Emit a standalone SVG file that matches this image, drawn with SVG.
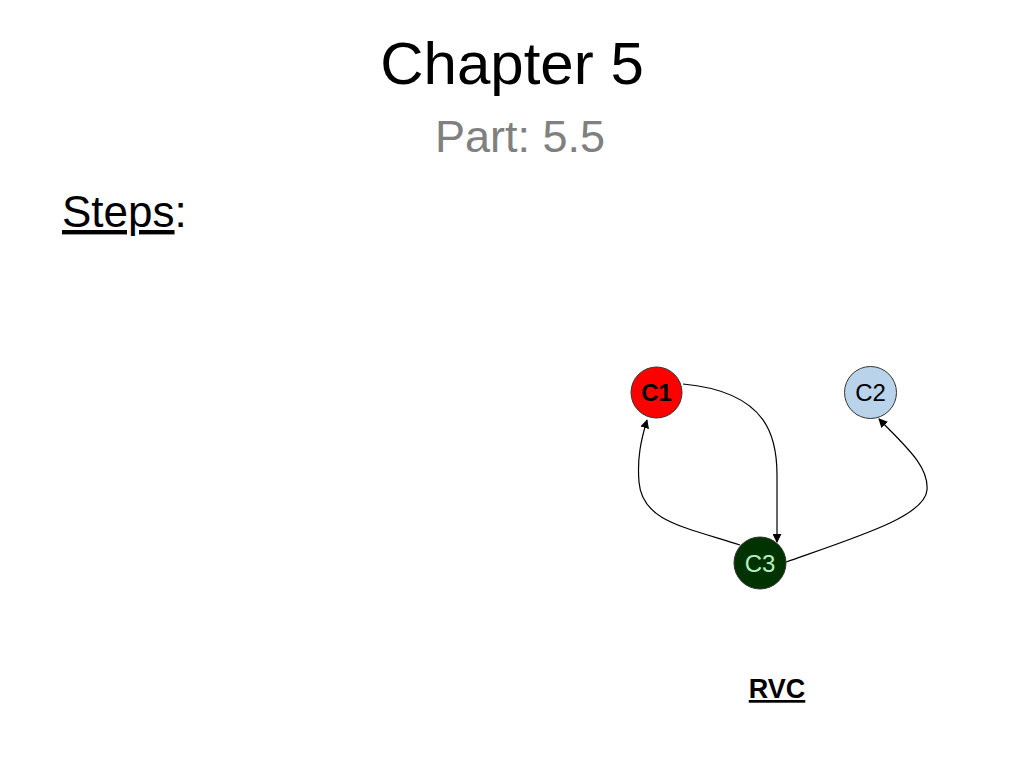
<svg xmlns="http://www.w3.org/2000/svg" width="1024" height="768" viewBox="0 0 1024 768">
<defs>
<style>
text{font-family:"Liberation Sans",Arial,sans-serif}
.edge{fill:none;stroke:#000;stroke-width:1.2}
.node{stroke:#333;stroke-width:1}
.lbl{font-size:24px;text-anchor:middle}
</style>
<marker id="arr" viewBox="0 0 10 10" refX="9" refY="5" markerWidth="9" markerHeight="9" markerUnits="userSpaceOnUse" orient="auto">
<path d="M0,0 L10,5 L0,10 Z" fill="#000"/>
</marker>
</defs>
<rect width="1024" height="768" fill="#fff"/>
<text x="512" y="84" font-size="60" text-anchor="middle" fill="#000">Chapter 5</text>
<text x="520" y="152" font-size="45" text-anchor="middle" fill="#808080">Part: 5.5</text>
<text x="62" y="227" font-size="44" fill="#000"><tspan text-decoration="underline">Steps</tspan>:</text>
<g id="connectors">
<path class="edge" d="M683,384 C770,392 777,440 777,475 L777,542" marker-end="url(#arr)"/>
<path class="edge" d="M740,545 C680,526 642,520 639,482 C637,458 641,440 647,420" marker-end="url(#arr)"/>
<path class="edge" d="M786,562 C860,536 925,516 927,490 C929,466 905,446 879,419" marker-end="url(#arr)"/>
</g>
<g id="C1">
<circle class="node" cx="656.5" cy="392.5" r="25.5" fill="#ff0000"/>
<text class="lbl" x="656.5" y="400.5" font-weight="bold" font-size="22" fill="#000">C1</text>
</g>
<g id="C2">
<circle class="node" cx="870.5" cy="392.5" r="26" fill="#b9d3ea"/>
<text class="lbl" x="870.5" y="401" fill="#000">C2</text>
</g>
<g id="C3">
<circle class="node" cx="760" cy="563" r="26" fill="#003300"/>
<text class="lbl" x="760" y="571.5" fill="#b3efc0">C3</text>
</g>
<text x="777" y="698" font-size="27" font-weight="bold" text-anchor="middle" text-decoration="underline" fill="#000">RVC</text>
</svg>
